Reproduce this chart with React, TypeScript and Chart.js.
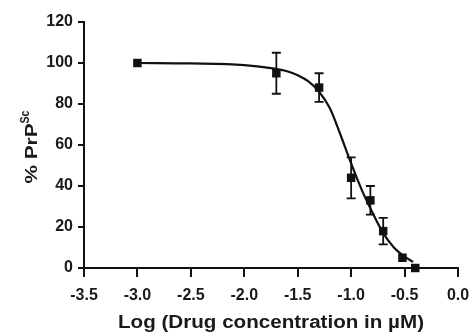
import React, { useEffect, useRef } from "react";
import { Chart, registerables } from "chart.js";

Chart.register(...registerables);

// Measured data (log concentration, % PrPSc, SEM)
const pointX = [-3.0, -1.7, -1.3, -1.0, -0.82, -0.7, -0.52, -0.4];
const pointY = [100, 95, 88, 44, 33, 18, 5, 0];
const pointErr = [0, 10, 7, 10, 7, 6.5, 0, 0];

// Fitted curve
const curveX = [-3.0, -2.5, -2.0, -1.75, -1.6, -1.5, -1.4, -1.3, -1.2, -1.1, -1.0, -0.9, -0.8, -0.7, -0.6, -0.5, -0.42];
const curveY = [100, 99.8, 99, 97.5, 96, 94, 91, 86, 78, 65, 51, 38, 27, 17, 10, 5.5, 3];

const xTicks = [-3.5, -3.0, -2.5, -2.0, -1.5, -1.0, -0.5, 0.0];
const yTicks = [0, 20, 40, 60, 80, 100, 120];

const xTitle = "Log (Drug concentration in \u00b5M)";
const yTitleMain = "% PrP";
const yTitleSup = "Sc";

const FONT = "'Liberation Sans', Arial, sans-serif";

const errorBarPlugin = {
  id: "errorBars",
  afterDatasetsDraw(chart: any) {
    const { ctx, scales } = chart;
    const xs = scales.x;
    const ys = scales.y;
    ctx.save();
    ctx.strokeStyle = "#111";
    ctx.lineWidth = 1.8;
    pointX.forEach((xv, i) => {
      const e = pointErr[i];
      if (!e) return;
      const px = xs.getPixelForValue(xv);
      const top = ys.getPixelForValue(pointY[i] + e);
      const bot = ys.getPixelForValue(pointY[i] - e);
      ctx.beginPath();
      ctx.moveTo(px, top);
      ctx.lineTo(px, bot);
      ctx.moveTo(px - 4.5, top);
      ctx.lineTo(px + 4.5, top);
      ctx.moveTo(px - 4.5, bot);
      ctx.lineTo(px + 4.5, bot);
      ctx.stroke();
    });
    ctx.restore();
  },
};

function fillStretched(ctx: CanvasRenderingContext2D, text: string, x: number, y: number, targetW: number) {
  const w = ctx.measureText(text).width;
  const k = targetW / w;
  ctx.save();
  ctx.translate(x, y);
  ctx.scale(k, 1);
  ctx.textAlign = "left";
  ctx.fillText(text, 0, 0);
  ctx.restore();
}

const titlesPlugin = {
  id: "axisTitles",
  afterDraw(chart: any) {
    const { ctx, chartArea } = chart;
    ctx.save();
    ctx.fillStyle = "#1a1a1a";
    ctx.textBaseline = "alphabetic";
    // x title
    ctx.font = `bold 18px ${FONT}`;
    const cx = (chartArea.left + chartArea.right) / 2;
    const xw = 306;
    fillStretched(ctx, xTitle, cx - xw / 2, 328, xw);
    // y title with superscript (rotated)
    ctx.translate(37, 147);
    ctx.rotate(-Math.PI / 2);
    const mainW = 60;
    const supW = 13;
    const total = mainW + supW;
    ctx.font = `bold 17px ${FONT}`;
    fillStretched(ctx, yTitleMain, -total / 2, 0, mainW);
    ctx.font = `bold 12px ${FONT}`;
    fillStretched(ctx, yTitleSup, -total / 2 + mainW, -8, supW);
    ctx.restore();
  },
};

export default function App() {
  const ref = useRef<HTMLCanvasElement | null>(null);
  useEffect(() => {
    if (!ref.current) return;
    const chart = new Chart(ref.current, {
      type: "scatter",
      data: {
        datasets: [
          {
            type: "line",
            data: curveX.map((x, i) => ({ x, y: curveY[i] })),
            borderColor: "#111",
            borderWidth: 2.2,
            pointRadius: 0,
            cubicInterpolationMode: "monotone",
            fill: false,
          } as any,
          {
            data: pointX.map((x, i) => ({ x, y: pointY[i] })),
            pointStyle: "rect",
            pointRadius: 6,
            backgroundColor: "#111",
            borderColor: "#111",
            borderWidth: 0,
            showLine: false,
          },
        ],
      },
      options: {
        responsive: false,
        animation: false,
        clip: false as any,
        layout: { padding: { top: 22, right: 14, left: 0, bottom: 0 } },
        plugins: { legend: { display: false }, tooltip: { enabled: false } },
        scales: {
          x: {
            type: "linear",
            min: -3.5,
            max: 0,
            afterBuildTicks: (s: any) => {
              s.ticks = xTicks.map((v) => ({ value: v }));
            },
            afterFit: (s: any) => {
              s.height = 64;
              s.paddingLeft = 0;
              s.paddingRight = 0;
            },
            ticks: {
              callback: (v: any) => Number(v).toFixed(1),
              color: "#1a1a1a",
              font: { family: FONT, size: 16, weight: "bold" },
              padding: 9,
              maxRotation: 0,
            },
            grid: {
              display: true,
              drawOnChartArea: false,
              drawTicks: true,
              tickLength: 9,
              color: "#111",
              lineWidth: 2,
            },
            border: { display: true, color: "#111", width: 2 },
          },
          y: {
            type: "linear",
            min: 0,
            max: 120,
            afterBuildTicks: (s: any) => {
              s.ticks = yTicks.map((v) => ({ value: v }));
            },
            afterFit: (s: any) => {
              s.width = 84;
              s.paddingTop = 0;
              s.paddingBottom = 0;
            },
            ticks: {
              color: "#1a1a1a",
              font: { family: FONT, size: 16, weight: "bold" },
              padding: 5,
            },
            grid: {
              display: true,
              drawOnChartArea: false,
              drawTicks: true,
              tickLength: 6,
              color: "#111",
              lineWidth: 2,
            },
            border: { display: true, color: "#111", width: 2 },
          },
        },
      },
      plugins: [errorBarPlugin, titlesPlugin],
    });
    return () => chart.destroy();
  }, []);
  return (
    <div style={{ position: "absolute", left: 0, top: 0, width: 472, height: 332, background: "#fff" }}>
      <canvas ref={ref} width={472} height={332} />
    </div>
  );
}
